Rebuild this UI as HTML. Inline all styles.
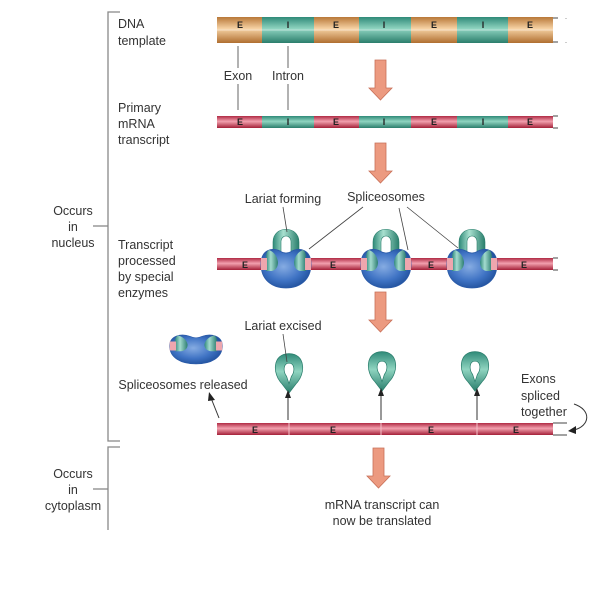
<!DOCTYPE html>
<html><head><meta charset="utf-8"><style>
body{margin:0;background:#fff;}
svg{display:block}
text{font-family:"Liberation Sans",sans-serif;font-size:12.5px;fill:#333}
.b{font-weight:bold;font-size:9px;fill:#222}
</style></head><body>
<svg width="604" height="610" viewBox="0 0 604 610" xmlns="http://www.w3.org/2000/svg">
<defs>
<linearGradient id="or" x1="0" y1="0" x2="0" y2="1"><stop offset="0" stop-color="#b87838"/><stop offset=".45" stop-color="#f6d2a4"/><stop offset="1" stop-color="#b06e30"/></linearGradient>
<linearGradient id="gr" x1="0" y1="0" x2="0" y2="1"><stop offset="0" stop-color="#2f8a78"/><stop offset=".45" stop-color="#8fd4c0"/><stop offset="1" stop-color="#2a7e6c"/></linearGradient>
<linearGradient id="gh" x1="0" y1="0" x2="1" y2="0"><stop offset="0" stop-color="#2f8a78"/><stop offset=".4" stop-color="#a8e0cf"/><stop offset="1" stop-color="#2a7e6c"/></linearGradient>
<linearGradient id="rd" x1="0" y1="0" x2="0" y2="1"><stop offset="0" stop-color="#b02a44"/><stop offset=".45" stop-color="#f2a0ae"/><stop offset="1" stop-color="#a42038"/></linearGradient>
<radialGradient id="bl" cx=".45" cy=".45" r=".6"><stop offset="0" stop-color="#86ace2"/><stop offset=".6" stop-color="#3f73c4"/><stop offset="1" stop-color="#1f4f9a"/></radialGradient>
<g id="sp">
<path d="M-25,0 C-25,-14 -14,-17 -6,-13 Q0,-9 6,-13 C14,-17 25,-14 25,0 C25,16 14,24 0,24 C-14,24 -25,16 -25,0Z" fill="url(#bl)" stroke="#2a5aa8" stroke-width=".8"/>
<path d="M-17,-14 C-12,-12 -9,-8 -8,-2 C-8,3 -10,6 -14,7 L-20,7 L-20,-6 C-20,-10 -19,-13 -17,-14Z" fill="url(#gh)" opacity=".95"/>
<path d="M17,-14 C12,-12 9,-8 8,-2 C8,3 10,6 14,7 L20,7 L20,-6 C20,-10 19,-13 17,-14Z" fill="url(#gh)" opacity=".95"/>
<rect x="-25" y="-6" width="6" height="12" fill="#eea6ae"/>
<rect x="19" y="-6" width="6" height="12" fill="#eea6ae"/>
</g>
<g id="lar"><path d="M-13,-8 V-22 C-13,-39 13,-39 13,-22 V-8 L5,-8 V-22 C5,-30 -5,-30 -5,-22 V-8Z" fill="url(#gh)" stroke="#2a7e6c" stroke-width=".6"/></g>
<g id="ex"><path d="M0,-17 C-14,-17 -14,0 -6,8 L0,16 L6,8 C14,0 14,-17 0,-17Z M0,-9 C-5,-9 -5,-2 -2,2 L0,8 L2,2 C5,-2 5,-9 0,-9Z" fill="url(#gr)" fill-rule="evenodd" stroke="#2a7e6c" stroke-width=".6"/></g>
<g id="arr"><path d="M-5,0 H6 V28 H12 L0.5,40 L-11,28 H-5Z" fill="#ec9a80" stroke="#c87058" stroke-width=".8"/></g>
</defs>

<text x="118" y="28">DNA</text><text x="118" y="45">template</text>
<text x="118" y="112">Primary</text><text x="118" y="128">mRNA</text><text x="118" y="144">transcript</text>
<text x="118" y="249">Transcript</text><text x="118" y="265">processed</text><text x="118" y="281">by special</text><text x="118" y="297">enzymes</text>
<text x="73" y="215" text-anchor="middle">Occurs</text><text x="73" y="231" text-anchor="middle">in</text><text x="73" y="247" text-anchor="middle">nucleus</text>
<text x="73" y="478" text-anchor="middle">Occurs</text><text x="73" y="494" text-anchor="middle">in</text><text x="73" y="510" text-anchor="middle">cytoplasm</text>
<g stroke="#888" stroke-width="1.3" fill="none">
<path d="M120,12 H108 V441 H120"/><path d="M93,226 H108"/>
<path d="M120,447 H108 V530"/><path d="M93,489 H108"/>
</g>

<g>
<rect x="217" y="17" width="45" height="26" fill="url(#or)"/>
<rect x="262" y="17" width="52" height="26" fill="url(#gr)"/>
<rect x="314" y="17" width="45" height="26" fill="url(#or)"/>
<rect x="359" y="17" width="52" height="26" fill="url(#gr)"/>
<rect x="411" y="17" width="46" height="26" fill="url(#or)"/>
<rect x="457" y="17" width="51" height="26" fill="url(#gr)"/>
<rect x="508" y="17" width="45" height="26" fill="url(#or)"/>
<line x1="217" y1="30" x2="553" y2="30" stroke="#fff" stroke-opacity=".5"/>
<text class="b" x="240" y="28" text-anchor="middle">E</text><text class="b" x="288" y="28" text-anchor="middle">I</text><text class="b" x="336" y="28" text-anchor="middle">E</text><text class="b" x="384" y="28" text-anchor="middle">I</text><text class="b" x="434" y="28" text-anchor="middle">E</text><text class="b" x="483" y="28" text-anchor="middle">I</text><text class="b" x="530" y="28" text-anchor="middle">E</text>
<path d="M553,18 H558 M553,42 H558" stroke="#444"/><path d="M566,18 v1 M566,42 v1" stroke="#999"/>
</g>
<g stroke="#666" stroke-width="1"><path d="M238,46 V68 M238,84 V110 M288,46 V68 M288,84 V110"/></g>
<text x="238" y="80" text-anchor="middle">Exon</text><text x="288" y="80" text-anchor="middle">Intron</text>
<use href="#arr" x="380" y="60"/>

<g>
<rect x="217" y="116" width="45" height="12" fill="url(#rd)"/>
<rect x="262" y="116" width="52" height="12" fill="url(#gr)"/>
<rect x="314" y="116" width="45" height="12" fill="url(#rd)"/>
<rect x="359" y="116" width="52" height="12" fill="url(#gr)"/>
<rect x="411" y="116" width="46" height="12" fill="url(#rd)"/>
<rect x="457" y="116" width="51" height="12" fill="url(#gr)"/>
<rect x="508" y="116" width="45" height="12" fill="url(#rd)"/>
<text class="b" x="240" y="125" text-anchor="middle">E</text><text class="b" x="288" y="125" text-anchor="middle">I</text><text class="b" x="336" y="125" text-anchor="middle">E</text><text class="b" x="384" y="125" text-anchor="middle">I</text><text class="b" x="434" y="125" text-anchor="middle">E</text><text class="b" x="483" y="125" text-anchor="middle">I</text><text class="b" x="530" y="125" text-anchor="middle">E</text>
<path d="M553,116 H558 M553,128 H558" stroke="#444"/>
</g>
<use href="#arr" x="380" y="143"/>

<text x="283" y="203" text-anchor="middle">Lariat forming</text>
<text x="386" y="201" text-anchor="middle">Spliceosomes</text>
<rect x="217" y="258" width="336" height="12" fill="url(#rd)"/>
<path d="M553,258 H558 M553,270 H558" stroke="#444"/>
<text class="b" x="245" y="268" text-anchor="middle">E</text><text class="b" x="333" y="268" text-anchor="middle">E</text><text class="b" x="431" y="268" text-anchor="middle">E</text><text class="b" x="524" y="268" text-anchor="middle">E</text>
<g transform="translate(286,264)"><use href="#lar"/><use href="#sp"/></g>
<g transform="translate(386,264)"><use href="#lar"/><use href="#sp"/></g>
<g transform="translate(472,264)"><use href="#lar"/><use href="#sp"/></g>
<g stroke="#444" stroke-width=".8"><path d="M283,207 L287,232 M363,207 L309,249 M399,208 L408,250 M407,207 L458,248"/></g>
<use href="#arr" x="380" y="292"/>

<text x="283" y="330" text-anchor="middle">Lariat excised</text>
<g transform="translate(196,346) scale(1.05,0.75)"><use href="#sp"/></g>
<g transform="translate(289,374) scale(1.2)"><use href="#ex"/></g>
<g transform="translate(382,372) scale(1.2)"><use href="#ex"/></g>
<g transform="translate(475,372) scale(1.2)"><use href="#ex"/></g>
<path d="M283,334 L287,362" stroke="#444" stroke-width=".8"/>
<text x="183" y="389" text-anchor="middle">Spliceosomes released</text>
<text x="521" y="383">Exons</text><text x="521" y="400">spliced</text><text x="521" y="416">together</text>
<g stroke="#333" stroke-width="1" fill="none">
<path d="M219,418 L211,398"/><path d="M288,420 V396"/><path d="M381,420 V394"/><path d="M477,420 V394"/>
<path d="M574,404 C592,410 590,426 574,430"/>
</g>
<g fill="#222">
<path d="M209,392 L215,400 L208,401Z"/><path d="M288,390 L285,398 L291,398Z"/><path d="M381,388 L378,396 L384,396Z"/><path d="M477,388 L474,396 L480,396Z"/><path d="M568,431 L576,426 L576,434Z"/>
</g>
<rect x="217" y="423" width="336" height="12" fill="url(#rd)"/>
<g stroke="#f3c0c8" stroke-width="1"><path d="M289,423 v12 M381,423 v12 M477,423 v12"/></g>
<path d="M553,423 H567 M553,435 H567" stroke="#444"/>
<text class="b" x="255" y="433" text-anchor="middle">E</text><text class="b" x="333" y="433" text-anchor="middle">E</text><text class="b" x="431" y="433" text-anchor="middle">E</text><text class="b" x="516" y="433" text-anchor="middle">E</text>
<use href="#arr" x="378" y="448"/>
<text x="382" y="509" text-anchor="middle">mRNA transcript can</text>
<text x="382" y="525" text-anchor="middle">now be translated</text>
</svg>
</body></html>
